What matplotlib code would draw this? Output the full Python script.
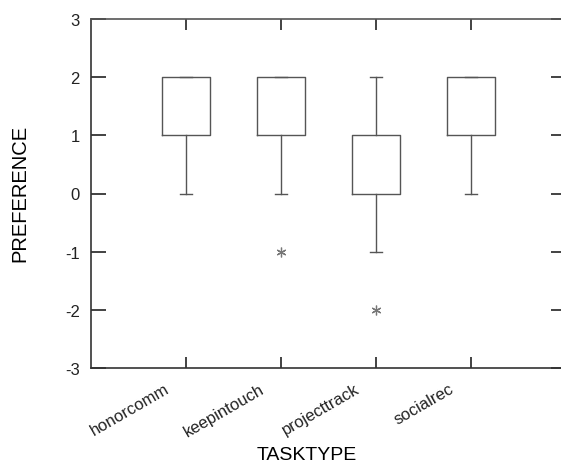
import matplotlib
matplotlib.use("Agg")
import matplotlib.pyplot as plt
from matplotlib.transforms import ScaledTranslation

categories = ["honorcomm", "keepintouch", "projecttrack", "socialrec"]
q1 = [1, 1, 0, 1]
q3 = [2, 2, 1, 2]
med = [2, 2, 1, 2]
whislo = [0, 0, -1, 0]
whishi = [2, 2, 2, 2]
fliers = [[], [-1], [-2], []]
yticks = [-3, -2, -1, 0, 1, 2, 3]

plt.rcParams['font.family'] = ['Liberation Sans', 'DejaVu Sans']

W, H = 561, 464
fig = plt.figure(figsize=(W / 100, H / 100), dpi=100)
ax = fig.add_axes([91 / W, 95 / H, 475 / W, 349 / H])

stats = []
for i, c in enumerate(categories):
    stats.append(dict(label=c, q1=q1[i], q3=q3[i], med=med[i],
                      whislo=whislo[i], whishi=whishi[i], fliers=fliers[i]))

gray = "#555555"
ax.bxp(stats, positions=range(1, len(categories) + 1), widths=0.5,
       capwidths=0.125, showfliers=True,
       boxprops=dict(color=gray, linewidth=1.0),
       whiskerprops=dict(color=gray, linewidth=1.0),
       capprops=dict(color=gray, linewidth=1.0),
       medianprops=dict(linestyle="none"),
       flierprops=dict(marker=(6, 2, 0), markersize=7, markeredgecolor="#777777",
                       markerfacecolor="#777777", markeredgewidth=0.9, linestyle="none"))

ax.set_xlim(0, 5)
ax.set_ylim(-3, 3)
ax.set_yticks(yticks)
ax.set_yticklabels([str(v) for v in yticks], fontsize=12)
ax.set_xticks(range(1, len(categories) + 1))
ax.set_xticklabels(categories, rotation=30, ha="right", va="baseline",
                   rotation_mode="anchor", fontsize=12)

ax.tick_params(axis="y", direction="in", length=11, width=1.2, right=True, left=True, pad=8, colors="#222222")
ax.tick_params(axis="x", direction="in", length=8, width=1.2, top=True, bottom=True, pad=0, colors="#222222")
off = ScaledTranslation(-16 / 100, -23 / 100, fig.dpi_scale_trans)
for lab in ax.get_xticklabels():
    lab.set_transform(lab.get_transform() + off)

for s in ax.spines.values():
    s.set_linewidth(1.2)
    s.set_color("#333333")
ax.spines["top"].set_color("#555555")

fig.text(307 / W, 1 - 460 / H, "TASKTYPE", fontsize=14, ha="center", va="baseline")
fig.text(20 / W, 1 - 193 / H, "PREFERENCE", fontsize=14.5, ha="center", va="center", rotation=90)

fig.savefig("out.png", dpi=100)
